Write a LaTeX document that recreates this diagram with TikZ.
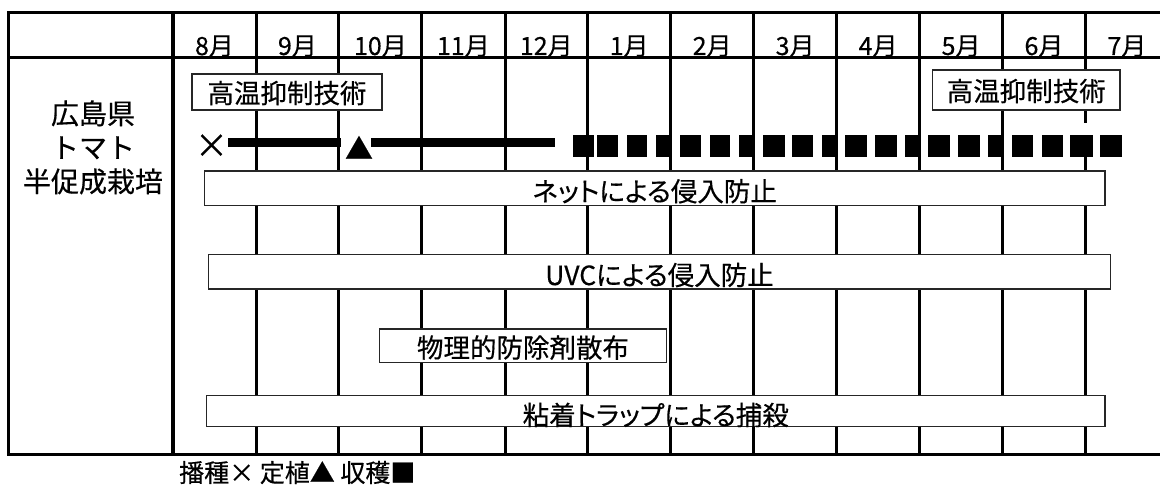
\documentclass[tikz,border=0pt]{standalone}
\usepackage{fontspec}
\newfontfamily\jp{Noto Sans CJK JP}[FakeBold=0.4]
\newfontfamily\jpp{Noto Sans CJK JP}[FakeBold=0.4,RawFeature=+palt]
\begin{document}
\begin{tikzpicture}[x=1pt,y=-1pt,
  grid/.style={line width=3pt, line cap=rect},
  bar/.style={fill=white, draw=black!85, line width=1.3pt, inner sep=0pt,
    font=\jp\fontsize{26.5}{30}\selectfont, text height=26pt, text depth=0pt},
  month/.style={font=\jp\fontsize{25}{30}\selectfont, anchor=base, inner sep=0pt},
  thickbar/.style={line width=8.4pt},
  symb/.style={inner sep=0pt, font=\jp\fontsize{28}{30}\selectfont}]
\useasboundingbox (0,0) rectangle (1160,489);
\clip (0,0) rectangle (1160,489);
% table frame
\draw[grid] (8,13) -- (1175,13);
\draw[grid] (8,58) -- (1175,58);
\draw[grid] (8,454) -- (1175,454);
\draw[grid] (8,13) -- (8,454);
\draw[line width=3.5pt] (173,13) -- (173,454);
\foreach \x in {256,338.5,421.5,505,587.5,670.5,753.5,836.5,919.5,1002.5,1085.5}
  \draw[grid] (\x,13) -- (\x,454);
% month labels
\foreach \m [count=\i] in {8月,9月,10月,11月,12月,1月,2月,3月,4月,5月,6月,7月}
  \node[month] (m\i) at ({173+(\i-0.5)*82.95},55) {\m};
% row label
\node[align=center, inner sep=0pt, font=\jp\fontsize{28}{34}\selectfont] (pref) at (93,147.4) {広島県\\トマト\\半促成栽培};
% heat suppression boxes
\node[bar, minimum width=190pt, minimum height=36pt, text height=22.2pt] (heatL) at (287,92) {高温抑制技術};
\node[bar, minimum width=187.3pt, minimum height=40pt, text height=22.2pt] (heatR) at (1026.3,90) {高温抑制技術};
% timeline
\fill[white] (1083.5,123.5) rectangle (1087.5,135);
\node[symb, font=\jp\fontsize{33}{34}\selectfont] (sow) at (211.5,146) {×};
\node[symb] (plant) at (359,147.5) {▲};
\coordinate (barA) at (228,142.5);
\coordinate (barB) at (340.7,142.5);
\coordinate (barC) at (371,142.5);
\coordinate (barD) at (555,142.5);
\draw[thickbar] (barA) -- (barB);
\draw[thickbar] (barC) -- (barD);
\foreach \a/\b in {572.7/593.5, 596.7/617.5, 626.7/647, 656/669.5, 680/700.7, 710/730, 739.3/752,
  763/785, 791.7/813.3, 821.7/835, 845/866.7, 875/896.7, 905/918, 928/950, 958/980, 988/1001,
  1011.7/1033, 1041.7/1063.3, 1070/1093.3, 1100/1121.7}
  \fill (\a,135) rectangle (\b,157);
% measures
\node[bar, minimum width=900.7pt, minimum height=34.7pt, font=\jpp\fontsize{26.5}{30}\selectfont] (net) at (654.7,188.3) {ネットによる侵入防止};
\node[bar, minimum width=902.4pt, minimum height=34.7pt, text height=26.7pt, font=\jpp\fontsize{26.5}{30}\selectfont] (uvc) at (659.5,271.7) {UVCによる侵入防止};
\node[bar, minimum width=287.4pt, minimum height=33.7pt, text height=23.6pt] (phys) at (523,345.8) {物理的防除剤散布};
\node[bar, minimum width=898.3pt, minimum height=31pt, text height=27.7pt, font=\jpp\fontsize{26.5}{30}\selectfont] (trap) at (655.8,411.2) {粘着トラップによる捕殺};
% legend
\node[anchor=base west, inner sep=0pt, font=\jp\fontsize{25}{30}\selectfont] (legend) at (179,482) {播種× 定植▲ 収穫■};
\end{tikzpicture}
\end{document}
